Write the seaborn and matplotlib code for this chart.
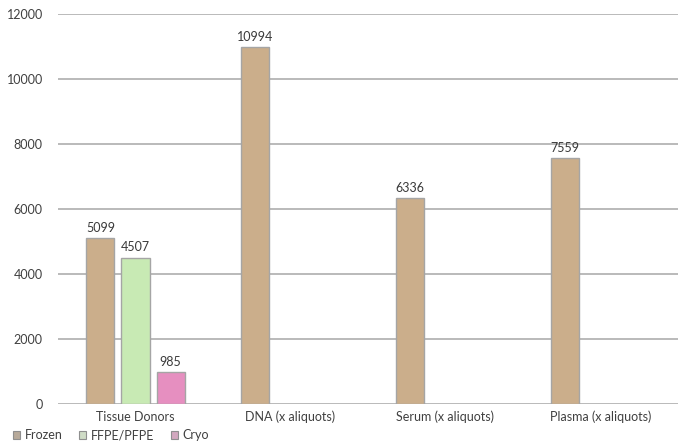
import numpy as np
import pandas as pd
import matplotlib
matplotlib.use("Agg")
import matplotlib.pyplot as plt
import seaborn as sns
from matplotlib.patches import Patch

categories = ["Tissue Donors", "DNA (x aliquots)", "Serum (x aliquots)", "Plasma (x aliquots)"]
series = ["Frozen", "FFPE/PFPE", "Cryo"]
frozen = [5099, 10994, 6336, 7559]
ffpe = [4507, np.nan, np.nan, np.nan]
cryo = [985, np.nan, np.nan, np.nan]
yticks = [0, 2000, 4000, 6000, 8000, 10000, 12000]

colors = ["#cbae8b", "#c8eab4", "#e68fc0"]
legend_colors = ["#b8aa9a", "#cfdcc6", "#d2a8bf"]

rows = []
for s, vals in zip(series, [frozen, ffpe, cryo]):
    for c, v in zip(categories, vals):
        if not np.isnan(v):
            rows.append({"category": c, "series": s, "value": v})
df = pd.DataFrame(rows)

sns.set_theme(style="white")
plt.rcParams["font.family"] = ["Lato", "DejaVu Sans"]
FS = 9

fig = plt.figure(figsize=(6.85, 4.43), dpi=100)
ax = fig.add_axes([58/685, 1 - 404/443, (678-58)/685, (404-14)/443])

sns.barplot(data=df, x="category", y="value", hue="series", order=categories,
            hue_order=series, palette=colors, width=0.68, gap=0.2,
            edgecolor="#a5a5a5", linewidth=1.0, saturation=1, legend=False, ax=ax, zorder=3)

for cont in ax.containers:
    labels = []
    for b in cont:
        h = b.get_height()
        labels.append("" if np.isnan(h) or h == 0 else f"{h:.0f}")
    ax.bar_label(cont, labels=labels, padding=3, fontsize=FS, color="#3a3a3a")

ax.set_ylim(0, 12000)
ax.set_yticks(yticks)
ax.set_yticklabels([str(t) for t in yticks], fontsize=FS, color="#404040")
ax.set_xlim(-0.5, 3.5)
ax.tick_params(axis="x", labelsize=FS, colors="#404040", length=0, pad=5)
ax.tick_params(axis="y", length=0, pad=11)
ax.grid(axis="y", color="#b4b4b4", linewidth=1.3, zorder=0)
ax.grid(axis="x", visible=False)
for sp in ax.spines.values():
    sp.set_visible(False)
ax.set_xlabel("")
ax.set_ylabel("")

handles = [Patch(facecolor=c, edgecolor="#8f8f8f", linewidth=0.8) for c in legend_colors]
fig.legend(handles, series, loc="lower left", bbox_to_anchor=(0.003, -0.022), ncol=3,
           frameon=False, fontsize=FS, handlelength=0.55, handleheight=0.55,
           handletextpad=0.4, columnspacing=1.3, labelcolor="#404040")

fig.savefig("out.png", dpi=100)
